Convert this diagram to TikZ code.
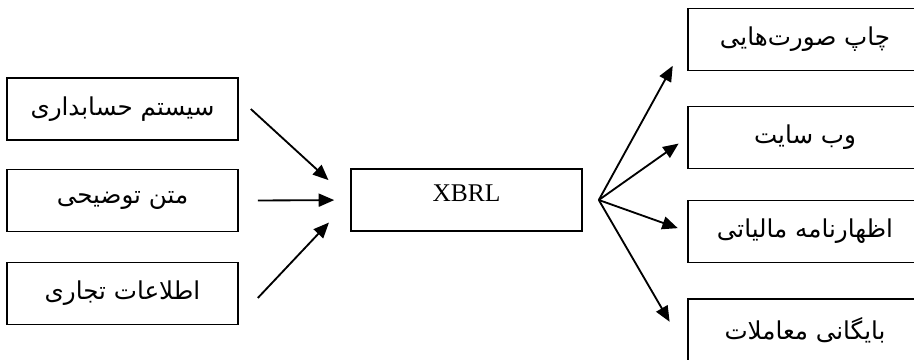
\documentclass[tikz,border=0pt]{standalone}
\usepackage{fontspec}
\setmainfont{Liberation Serif}
\newfontfamily\farsifont[Script=Arabic]{DejaVu Sans}
\TeXXeTstate=1
\usetikzlibrary{arrows.meta,positioning}
\newcommand{\fatext}[1]{{\farsifont\beginR #1\endR}}

\begin{document}
\begin{tikzpicture}[
    box/.style={draw, line width=0.9pt, minimum width=4.62cm, minimum height=1.24cm, inner sep=0pt, font=\fontsize{14}{16}\selectfont},
    arr/.style={line width=1.05pt, -{Triangle[length=0.31cm,width=0.26cm]}}
]
        \useasboundingbox (0,0) rectangle (18.28,7.18);
        \clip (0,0) rectangle (18.28,7.18);

        % inputs
        \node[box] at (2.45,5.0) (sys) {\fatext{سیستم حسابداری}};
        \node[box] at (2.45,3.17) (txt) {\fatext{متن توضیحی}};
        \node[box] at (2.45,1.31) (biz) {\fatext{اطلاعات تجاری}};

        \node[box, font=\fontsize{14.5}{16}\selectfont, text depth=0.28cm] at (9.33,3.18) (xbrl) {XBRL};

        % outputs
        \node[box, minimum width=4.68cm] at (16.1,6.39) (prt) {\fatext{چاپ صورت‌هایی}};
        \node[box, minimum width=4.68cm] at (16.1,4.43) (web) {\fatext{وب سایت}};
        \node[box, minimum width=4.68cm] at (16.1,2.55) (tax) {\fatext{اظهارنامه مالیاتی}};
        \node[box, minimum width=4.68cm] at (16.1,0.58) (arc) {\fatext{بایگانی معاملات}};

        \coordinate[right=0.24cm of sys.east] (s1);
        \coordinate[right=0.38cm of txt.east] (s2);
        \coordinate[right=0.38cm of biz.east, yshift=-0.09cm] (s3);
        \coordinate[right=0.32cm of xbrl.east] (hub);

        \draw[arr, shorten >=0.59cm] (s1) -- (xbrl.west);
        \draw[arr, shorten >=0.32cm] (s2) -- (xbrl.west);
        \draw[arr, shorten >=0.62cm] (s3) -- (xbrl.west);

        \draw[arr, shorten >=0.6cm] (hub) -- (prt.west);
        \draw[arr, shorten >=0.21cm] (hub) -- (web.west);
        \draw[arr, shorten >=0.2cm] (hub) -- (tax.west);
        \draw[arr, shorten >=0.7cm] (hub) -- ([yshift=-0.44cm]arc.west);

    \end{tikzpicture}
\end{document}
